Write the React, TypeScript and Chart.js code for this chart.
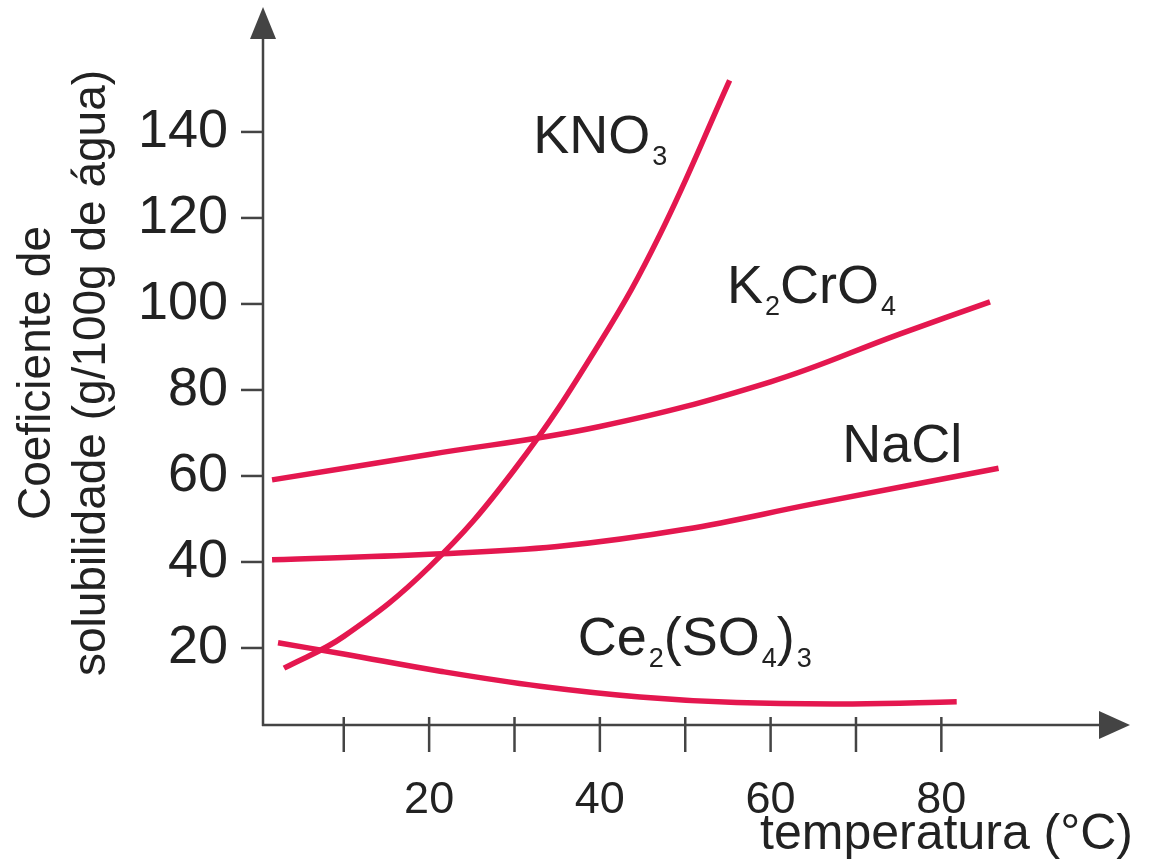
import React, { useEffect, useRef } from 'react';
import { Chart, registerables } from 'chart.js';

Chart.register(...registerables);

// ---- data ----
const temperatureTicks = [10, 20, 30, 40, 50, 60, 70, 80];
const solubilityTicks = [20, 40, 60, 80, 100, 120, 140];

const kno3Temp = [3, 10, 20, 30, 40, 47, 55.2];
const kno3Sol = [15.3, 22.7, 38.8, 61.5, 91, 116, 152];

const k2cro4Temp = [1.6, 20, 40, 60, 75.1, 85.7];
const k2cro4Sol = [59.1, 65.0, 71.5, 81.9, 93.0, 100.5];

const naclTemp = [1.6, 20, 35, 50, 65, 86.7];
const naclSol = [40.5, 41.8, 43.6, 47.6, 53.5, 61.8];

const ceTemp = [2.3, 10, 21.3, 33, 44.7, 56, 69.6, 81.8];
const ceSol = [21.2, 18.6, 14.6, 11.1, 8.6, 7.3, 7.0, 7.5];

// "_" marks a one-character subscript
const seriesNames = ['KNO_3', 'K_2CrO_4', 'NaCl', 'Ce_2(SO_4)_3'];

const xTitle = 'temperatura (°C)';
const yTitle = ['Coeficiente de', 'solubilidade (g/100g de água)'];

// ---- styles ----
const FONT = "'Liberation Sans', Arial, Helvetica, sans-serif";
const RED = '#e4174f';
const INK = '#222222';
const AXIS = '#444444';

const toPoints = (xs: number[], ys: number[]) => xs.map((x, i) => ({ x, y: ys[i] }));

function parseLabel(s: string) {
  const segs: { t: string; sub: boolean }[] = [];
  let i = 0;
  while (i < s.length) {
    if (s[i] === '_') {
      segs.push({ t: s[i + 1], sub: true });
      i += 2;
    } else {
      let j = i;
      while (j < s.length && s[j] !== '_') j++;
      segs.push({ t: s.slice(i, j), sub: false });
      i = j;
    }
  }
  return segs;
}

const decorPlugin = {
  id: 'decor',
  afterDraw(chart: any, _args: any, opts: any) {
    const { ctx, chartArea, scales } = chart;
    const xs = scales.x;
    const ys = scales.y;
    const x0 = chartArea.left;
    const y0 = chartArea.bottom;
    ctx.save();
    ctx.strokeStyle = AXIS;
    ctx.fillStyle = AXIS;
    ctx.lineWidth = 2.5;
    ctx.lineCap = 'butt';

    // y axis with arrow
    const yTip = chartArea.top - 14;
    ctx.beginPath();
    ctx.moveTo(x0, y0 + 1);
    ctx.lineTo(x0, yTip + 20);
    ctx.stroke();
    ctx.beginPath();
    ctx.moveTo(x0, yTip);
    ctx.lineTo(x0 - 13, yTip + 32);
    ctx.lineTo(x0 + 13, yTip + 32);
    ctx.closePath();
    ctx.fill();

    // x axis with arrow
    const xTip = chartArea.right - 3;
    ctx.beginPath();
    ctx.moveTo(x0 - 1, y0);
    ctx.lineTo(xTip - 20, y0);
    ctx.stroke();
    ctx.beginPath();
    ctx.moveTo(xTip, y0);
    ctx.lineTo(xTip - 31, y0 - 14);
    ctx.lineTo(xTip - 31, y0 + 14);
    ctx.closePath();
    ctx.fill();

    // tick marks
    xs.ticks.forEach((t: any) => {
      const px = xs.getPixelForValue(t.value);
      ctx.beginPath();
      ctx.moveTo(px, y0 - 8);
      ctx.lineTo(px, y0 + 27);
      ctx.stroke();
    });
    ys.ticks.forEach((t: any) => {
      const py = ys.getPixelForValue(t.value);
      ctx.beginPath();
      ctx.moveTo(x0 - 22, py);
      ctx.lineTo(x0, py);
      ctx.stroke();
    });

    // curve labels with subscripts
    ctx.fillStyle = INK;
    ctx.textBaseline = 'alphabetic';
    ctx.textAlign = 'left';
    seriesNames.forEach((name, k) => {
      const a = opts.anchors[k];
      let px = xs.getPixelForValue(a[0]);
      const py = ys.getPixelForValue(a[1]);
      parseLabel(name).forEach((seg) => {
        if (seg.sub) {
          ctx.font = `27px ${FONT}`;
          ctx.fillText(seg.t, px + 2, py + 12);
          px += ctx.measureText(seg.t).width + 2;
        } else {
          ctx.font = `54px ${FONT}`;
          ctx.fillText(seg.t, px, py);
          px += ctx.measureText(seg.t).width;
        }
      });
    });
    ctx.restore();
  },
};

export default function App() {
  const ref = useRef<HTMLCanvasElement | null>(null);

  useEffect(() => {
    if (!ref.current) return;
    const line = (xs: number[], ys: number[], label: string) => ({
      label,
      data: toPoints(xs, ys),
      borderColor: RED,
      backgroundColor: RED,
      borderWidth: 5.5,
      pointRadius: 0,
      fill: false,
      tension: 0.4,
    });

    const chart = new Chart(ref.current, {
      type: 'line',
      data: {
        datasets: [
          line(kno3Temp, kno3Sol, seriesNames[0]),
          line(k2cro4Temp, k2cro4Sol, seriesNames[1]),
          line(naclTemp, naclSol, seriesNames[2]),
          line(ceTemp, ceSol, seriesNames[3]),
        ],
      },
      options: {
        animation: false,
        responsive: false,
        devicePixelRatio: 1,
        layout: { padding: { top: 21, right: 22, left: 0, bottom: 0 } },
        plugins: {
          legend: { display: false },
          tooltip: { enabled: false },
          decor: {
            anchors: [
              [32.2, 135.1],
              [54.9, 100.2],
              [68.4, 63.3],
              [37.4, 18.4],
            ],
          },
        } as any,
        scales: {
          x: {
            type: 'linear',
            min: 0.54,
            max: 102.45,
            grid: { display: false, drawTicks: false },
            border: { display: false },
            afterBuildTicks: (scale: any) => {
              scale.ticks = temperatureTicks.map((v) => ({ value: v }));
            },
            afterFit: (scale: any) => {
              scale.height = 139;
              scale.paddingLeft = 0;
              scale.paddingRight = 0;
              scale.paddingTop = 0;
              scale.paddingBottom = 0;
            },
            ticks: {
              autoSkip: false,
              maxRotation: 0,
              minRotation: 0,
              padding: 49,
              color: INK,
              font: { family: FONT, size: 45 },
              callback: (v: any) => (Number(v) % 20 === 0 ? String(v) : ''),
            },
            title: {
              display: true,
              text: xTitle,
              align: 'end',
              color: INK,
              font: { family: FONT, size: 50, lineHeight: 1 },
              padding: { top: 0, bottom: 3.3 },
            },
          },
          y: {
            type: 'linear',
            min: 2.09,
            max: 165.8,
            grid: { display: false, drawTicks: false },
            border: { display: false },
            afterBuildTicks: (scale: any) => {
              scale.ticks = solubilityTicks.map((v) => ({ value: v }));
            },
            afterFit: (scale: any) => {
              scale.width = 263;
              scale.paddingLeft = 0;
              scale.paddingRight = 0;
              scale.paddingTop = 0;
              scale.paddingBottom = 0;
            },
            ticks: {
              autoSkip: false,
              padding: 35,
              color: INK,
              font: { family: FONT, size: 54 },
            },
            title: {
              display: true,
              text: yTitle,
              color: INK,
              font: { family: FONT, size: 46, lineHeight: 1.2 },
              padding: { top: 9.4, bottom: 0 },
            },
          },
        },
      },
      plugins: [decorPlugin],
    });
    return () => chart.destroy();
  }, []);

  return (
    <div style={{ position: 'absolute', left: 0, top: 0, width: 1155, height: 864, background: '#fff' }}>
      <canvas ref={ref} width={1155} height={864} style={{ display: 'block', width: 1155, height: 864 }} />
    </div>
  );
}
